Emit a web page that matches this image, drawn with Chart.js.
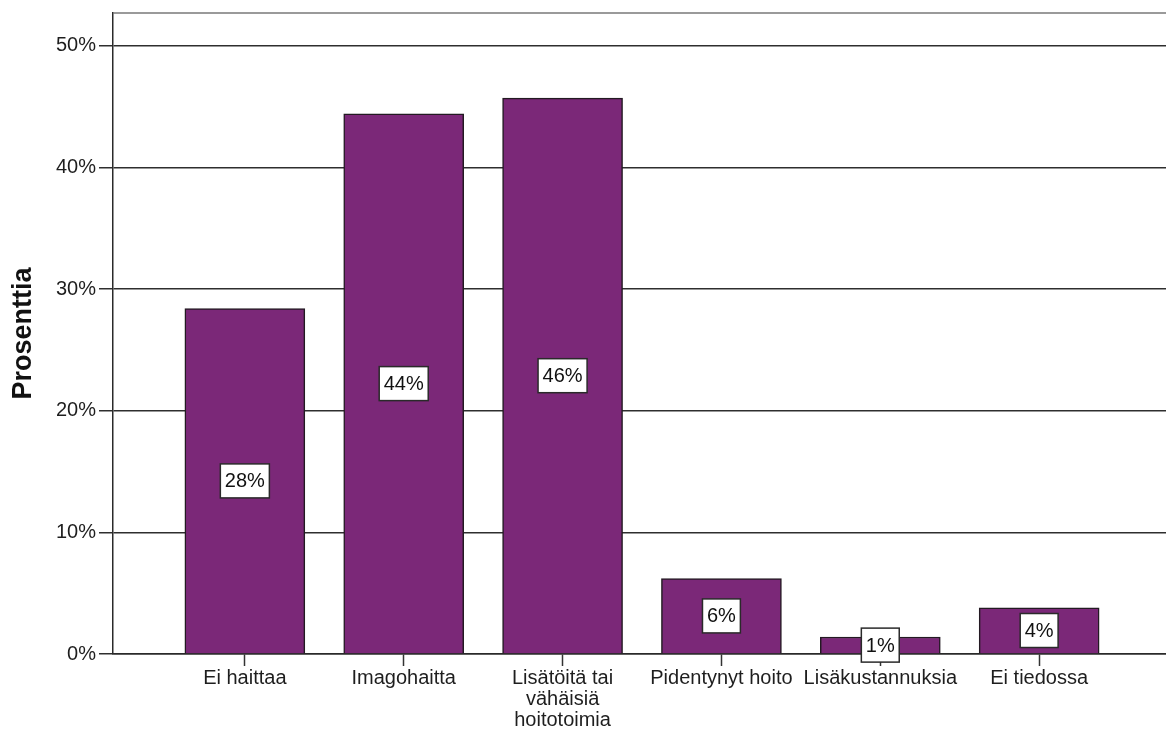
<!DOCTYPE html>
<html lang="fi">

<head>
    <meta charset="UTF-8">
    <title>Haitat</title>
    <script src="https://cdn.jsdelivr.net/npm/chart.js"></script>
    <style>
        html, body {
            margin: 0;
            padding: 0;
            background: #ffffff;
            overflow: hidden;
        }

        .wrap {
            position: relative;
            width: 1172px;
            height: 731px;
        }
    </style>
</head>

<body>
    <div class="wrap">
        <canvas id="haitat"></canvas>
    </div>

    <script>
        const kategoriat = ['Ei haittaa', 'Imagohaitta', ['Lisätöitä tai', 'vähäisiä', 'hoitotoimia'],
            'Pidentynyt hoito', 'Lisäkustannuksia', 'Ei tiedossa'];
        const prosentit = [28.4, 44.4, 45.7, 6.2, 1.4, 3.8];
        const yTicks = [0, 10, 20, 30, 40, 50];

        const tekstiVari = '#1e1e1e';
        const fontti = 'Arial, "Liberation Sans", sans-serif';

        // arvolaatikot pylväiden puoliväliin
        const arvoLaatikot = {
            id: 'arvoLaatikot',
            afterDatasetsDraw(chart) {
                const ctx = chart.ctx;
                const meta = chart.getDatasetMeta(0);
                ctx.save();
                ctx.font = '20px ' + fontti;
                ctx.textAlign = 'center';
                ctx.textBaseline = 'middle';
                meta.data.forEach((bar, i) => {
                    const { x, y, base } = bar.getProps(['x', 'y', 'base'], true);
                    const keski = (y + base) / 2;
                    const teksti = Math.round(prosentit[i]) + '%';
                    const w = ctx.measureText(teksti).width + 9;
                    const h = 34;
                    ctx.fillStyle = '#ffffff';
                    ctx.fillRect(x - w / 2, keski - h / 2, w, h);
                    ctx.strokeStyle = '#2a2a2a';
                    ctx.lineWidth = 1.5;
                    ctx.strokeRect(x - w / 2, keski - h / 2, w, h);
                    ctx.fillStyle = '#111111';
                    ctx.fillText(teksti, x, keski + 1);
                });
                ctx.restore();
            }
        };

        new Chart(document.getElementById('haitat'), {
            type: 'bar',
            data: {
                datasets: [{
                    data: prosentit.map((v, i) => ({ x: i, y: v })),
                    backgroundColor: '#7b2878',
                    borderColor: '#231a22',
                    borderWidth: 1.5,
                    barThickness: 120
                }]
            },
            options: {
                responsive: true,
                maintainAspectRatio: false,
                animation: false,
                layout: { padding: { top: 13, right: 1, left: 0, bottom: 0 } },
                plugins: {
                    legend: { display: false },
                    tooltip: { enabled: false }
                },
                scales: {
                    x: {
                        type: 'linear',
                        offset: false,
                        min: -0.83,
                        max: 5.83,
                        afterBuildTicks: s => { s.ticks = kategoriat.map((_, i) => ({ value: i })); },
                        afterFit: s => { s.height = 77; },
                        ticks: {
                            autoSkip: false,
                            maxRotation: 0,
                            padding: 2,
                            color: tekstiVari,
                            font: { family: fontti, size: 20, lineHeight: 1.05 },
                            callback: v => kategoriat[v]
                        },
                        grid: {
                            offset: false,
                            drawOnChartArea: false,
                            tickLength: 12,
                            tickColor: '#333333',
                            tickWidth: 1.5
                        },
                        border: { color: '#2a2a2a', width: 1.5 }
                    },
                    y: {
                        min: 0,
                        max: 52.7,
                        afterBuildTicks: s => {
                            s.ticks = yTicks.map(v => ({ value: v })).concat([{ value: 52.7 }]);
                        },
                        afterFit: s => { s.width = 113; s.paddingTop = 0; },
                        ticks: {
                            padding: 3,
                            color: tekstiVari,
                            font: { family: fontti, size: 20, lineHeight: 1 },
                            callback: v => (yTicks.includes(v) ? v + '%' : '')
                        },
                        grid: {
                            tickLength: 14,
                            lineWidth: c => (c.tick && c.tick.value > 50 ? 2 : 1.5),
                            color: c => (c.tick && c.tick.value > 50 ? '#9a9a9a' : '#2e2e2e'),
                            tickColor: c => (c.tick && c.tick.value > 50 ? 'rgba(0,0,0,0)' : '#2e2e2e')
                        },
                        border: { color: '#2a2a2a', width: 1.5 },
                        title: {
                            display: true,
                            text: 'Prosenttia',
                            color: '#111111',
                            font: { family: fontti, size: 27, weight: 'bold' },
                            padding: { top: 7, bottom: 0 }
                        }
                    }
                }
            },
            plugins: [arvoLaatikot]
        });
    </script>
</body>

</html>
